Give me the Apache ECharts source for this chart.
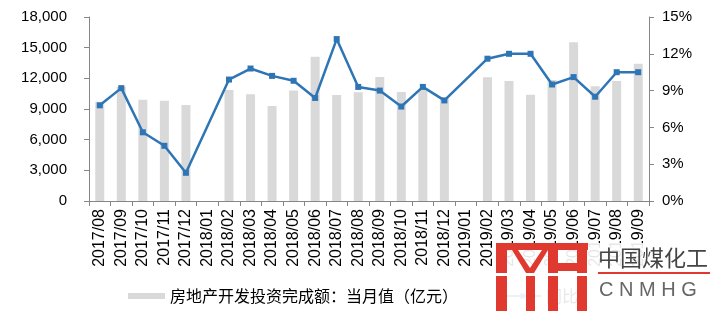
<!DOCTYPE html>
<html>
<head>
<meta charset="utf-8">
<script src="https://cdn.jsdelivr.net/npm/echarts@6/dist/echarts.min.js"></script>
<style>html,body{margin:0;padding:0;background:#fff;}#c{width:715px;height:311px;}</style>
</head>
<body>
<div id="c"></div>
<script>
const categories = ['2017/08','2017/09','2017/10','2017/11','2017/12','2018/01','2018/02','2018/03','2018/04','2018/05','2018/06','2018/07','2018/08','2018/09','2018/10','2018/11','2018/12','2019/01','2019/02','2019/03','2019/04','2019/05','2019/06','2019/07','2019/08','2019/09'];
const investMonthly = [9710,11180,9910,9810,9390,null,10860,10440,9290,10820,14110,10370,10630,12130,10660,10860,10040,null,12100,11740,10400,11830,15520,11220,11740,13430];
const yoyPct = [7.8,9.2,5.6,4.5,2.3,null,9.9,10.8,10.2,9.8,8.4,13.2,9.3,9.0,7.7,9.3,8.2,null,11.6,12.0,12.0,9.5,10.1,8.5,10.5,10.5];
const leftTicks = {min:0,max:18000,interval:3000};
const rightTicks = {min:0,max:15,interval:3};
const barName = '房地产开发投资完成额：当月值（亿元）';
const lineName = '同比';

const chart = echarts.init(document.getElementById('c'));
const axisCol = '#868686';
chart.setOption({
  animation:false,
  textStyle:{fontFamily:'Liberation Sans, Arial, sans-serif'},
  grid:{left:89,right:66,top:17,bottom:110},
  legend:{
    bottom:2,left:123,itemGap:45,itemWidth:37,itemHeight:6,
    textStyle:{fontFamily:'Noto Sans CJK SC',fontSize:16,color:'#000'},
    data:[{name:barName,icon:'rect'},{name:lineName}]
  },
  xAxis:{
    type:'category',data:categories,
    axisLine:{lineStyle:{color:axisCol,width:1}},
    axisTick:{show:true,length:5,lineStyle:{color:axisCol}},
    axisLabel:{rotate:90,interval:0,fontSize:16,color:'#000',margin:8}
  },
  yAxis:[{
    type:'value',min:leftTicks.min,max:leftTicks.max,interval:leftTicks.interval,
    axisLine:{show:true,lineStyle:{color:axisCol}},
    axisTick:{show:true,length:5,lineStyle:{color:axisCol}},
    splitLine:{show:false},
    axisLabel:{fontSize:15,color:'#000',margin:22,formatter:v=>v.toLocaleString('en-US')}
  },{
    type:'value',min:rightTicks.min,max:rightTicks.max,interval:rightTicks.interval,
    axisLine:{show:true,lineStyle:{color:axisCol}},
    axisTick:{show:true,length:5,lineStyle:{color:axisCol}},
    splitLine:{show:false},
    axisLabel:{fontSize:15,color:'#000',margin:13,formatter:'{value}%'}
  }],
  series:[{
    name:barName,type:'bar',data:investMonthly,barWidth:9,
    itemStyle:{color:'#d9d9d9'}
  },{
    name:lineName,type:'line',yAxisIndex:1,data:yoyPct,connectNulls:true,
    symbol:'rect',symbolSize:6,
    lineStyle:{color:'#2e75b6',width:2.5},
    itemStyle:{color:'#2e75b6'}
  }],
  graphic:[
    {type:'rect',z:100,shape:{x:496,y:243,width:219,height:68},style:{fill:'rgba(255,255,255,0.9)'}},
    {type:'rect',z:101,shape:{x:496,y:243,width:92,height:7},style:{fill:'#e03a30'}},
    {type:'rect',z:101,shape:{x:496,y:243,width:11,height:30},style:{fill:'#e03a30'}},
    {type:'rect',z:101,shape:{x:496,y:276,width:11,height:35},style:{fill:'#e03a30'}},
    {type:'polygon',z:101,shape:{points:[[518,250],[530,268],[542,250],[548,250],[534,273],[526,273],[512,250]]},style:{fill:'#e03a30'}},
    {type:'rect',z:101,shape:{x:526,y:276,width:9,height:35},style:{fill:'#e03a30'}},
    {type:'rect',z:101,shape:{x:548,y:250,width:10,height:23},style:{fill:'#e03a30'}},
    {type:'rect',z:101,shape:{x:548,y:276,width:10,height:35},style:{fill:'#e03a30'}},
    {type:'rect',z:101,shape:{x:558,y:263,width:19,height:8},style:{fill:'#e03a30'}},
    {type:'rect',z:101,shape:{x:577,y:250,width:10,height:23},style:{fill:'#e03a30'}},
    {type:'rect',z:101,shape:{x:577,y:276,width:10,height:35},style:{fill:'#e03a30'}},
    {type:'text',z:102,x:598,y:247,style:{text:'中国煤化工',font:'22px "Noto Sans CJK SC"',fill:'#444'}},
    {type:'rect',z:102,shape:{x:598,y:272,width:112,height:2},style:{fill:'#e03a30'}},
    {type:'text',z:102,x:599,y:280,style:{text:'C N M H G',font:'20px "Liberation Sans"',fill:'#666'}}
  ]
});
</script>
</body>
</html>
